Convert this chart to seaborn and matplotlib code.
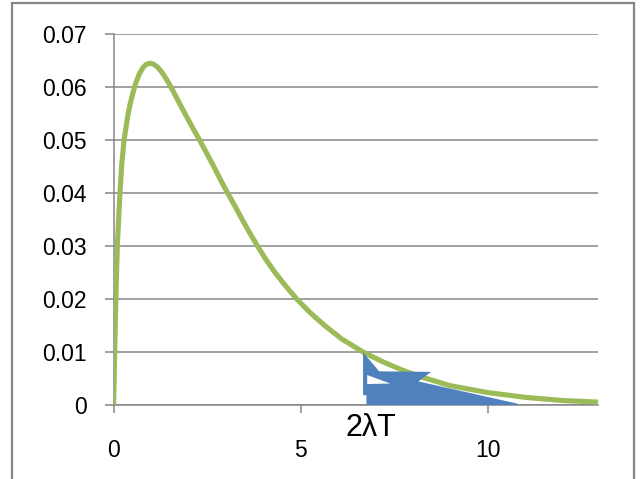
import matplotlib
matplotlib.use("Agg")
import matplotlib.pyplot as plt
import seaborn as sns
import numpy as np
import pandas as pd
from matplotlib.patches import Rectangle, PathPatch
from matplotlib.path import Path

# ---- data ----
curve_x = [0, 0.03, 0.06, 0.10, 0.17, 0.22, 0.28, 0.385, 0.45, 0.53, 0.60, 0.69, 0.79,
           0.88, 0.97, 1.07, 1.17, 1.29, 1.42, 1.55, 1.72, 1.90, 2.10, 2.30, 2.49,
           2.68, 2.86, 3.05, 3.25, 3.44, 3.64, 3.85, 4.07, 4.32, 4.60, 4.90, 5.25,
           5.65, 6.10, 6.68, 7.20, 7.66, 8.20, 9.00, 10.0, 11.0, 12.0, 12.95]
curve_y = [0, 0.010, 0.020, 0.030, 0.040, 0.0455, 0.0500, 0.0548, 0.0570, 0.0592, 0.0609, 0.0625, 0.0637,
           0.0643, 0.0645, 0.0643, 0.0638, 0.0628, 0.0614, 0.0598, 0.0575, 0.0551, 0.0525, 0.0500, 0.0475,
           0.0450, 0.0425, 0.0400, 0.0375, 0.0350, 0.0325, 0.0300, 0.0275, 0.0250, 0.0225, 0.0200, 0.0175,
           0.0150, 0.0125, 0.0100, 0.0082, 0.0068, 0.0054, 0.0037, 0.0024, 0.0015, 0.0009, 0.0006]

# shaded (blue) region outline and its hole
shade_x = [6.67, 7.10, 8.49, 8.15, 10.80, 10.80, 6.76, 6.76, 6.67]
shade_y = [0.0100, 0.0064, 0.0063, 0.0045, 0.0003, 0.0, 0.0, 0.0019, 0.0019]
hole_x = [6.78, 6.78, 7.40]
hole_y = [0.0057, 0.0040, 0.0041]

x_ticks = [0, 5, 10]
x_tick_labels = ["0", "5", "10"]
y_ticks = [0, 0.01, 0.02, 0.03, 0.04, 0.05, 0.06, 0.07]
y_tick_labels = ["0", "0.01", "0.02", "0.03", "0.04", "0.05", "0.06", "0.07"]
axis_label = "2λT"
label_pos = (6.88, -0.0043)

GREEN = "#9BBB59"
BLUE = "#4F81BD"
GRAY = "#868686"

sns.set_theme(style="white")
plt.rcParams["font.family"] = ["Liberation Sans", "DejaVu Sans"]

fig = plt.figure(figsize=(6.42, 4.79), dpi=100)
ax = fig.add_axes([0.1769, 0.1539, 0.7545, 0.7751])

df = pd.DataFrame({"x": curve_x, "y": curve_y})
sns.lineplot(data=df, x="x", y="y", ax=ax, color=GREEN, linewidth=3.7,
             estimator=None, sort=False, zorder=3)
ax.lines[-1].set_solid_capstyle("butt")
ax.lines[-1].set_solid_joinstyle("round")

# blue shaded polygon with hole (opposite winding)
verts = list(zip(shade_x, shade_y)) + [(shade_x[0], shade_y[0])] + \
        list(zip(hole_x, hole_y)) + [(hole_x[0], hole_y[0])]
codes = [Path.MOVETO] + [Path.LINETO] * (len(shade_x) - 1) + [Path.CLOSEPOLY] + \
        [Path.MOVETO] + [Path.LINETO] * (len(hole_x) - 1) + [Path.CLOSEPOLY]
patch = PathPatch(Path(verts, codes), facecolor=BLUE, edgecolor="none", zorder=4)
ax.add_patch(patch)

ax.set_xlim(0, 12.95)
ax.set_ylim(0, 0.07)
ax.set_xticks(x_ticks)
ax.set_xticklabels(x_tick_labels)
ax.set_yticks(y_ticks)
ax.set_yticklabels(y_tick_labels)
ax.set_xlabel("")
ax.set_ylabel("")

ax.yaxis.grid(True, color=GRAY, linewidth=1.1)
ax.xaxis.grid(False)
ax.set_axisbelow(True)
for s in ["top", "right"]:
    ax.spines[s].set_visible(False)
for s in ["left", "bottom"]:
    ax.spines[s].set_color(GRAY)
    ax.spines[s].set_linewidth(1.1)

ax.tick_params(axis="y", which="both", left=True, length=6.2, width=1.1, color=GRAY,
               direction="out", pad=13, labelsize=16.5, labelcolor="black")
ax.tick_params(axis="x", which="both", bottom=True, length=6, width=1.1, color=GRAY,
               direction="out", pad=18, labelsize=16.5, labelcolor="black")

ax.text(label_pos[0], label_pos[1], axis_label, ha="center", va="center",
        fontsize=22, color="black", clip_on=False)

fig.add_artist(Rectangle((12 / 642, -0.01), (634 - 12) / 642, 1 - 3 / 479 + 0.01,
                         transform=fig.transFigure, fill=False, edgecolor=GRAY,
                         linewidth=1.6))

fig.savefig("out.png", dpi=100)
